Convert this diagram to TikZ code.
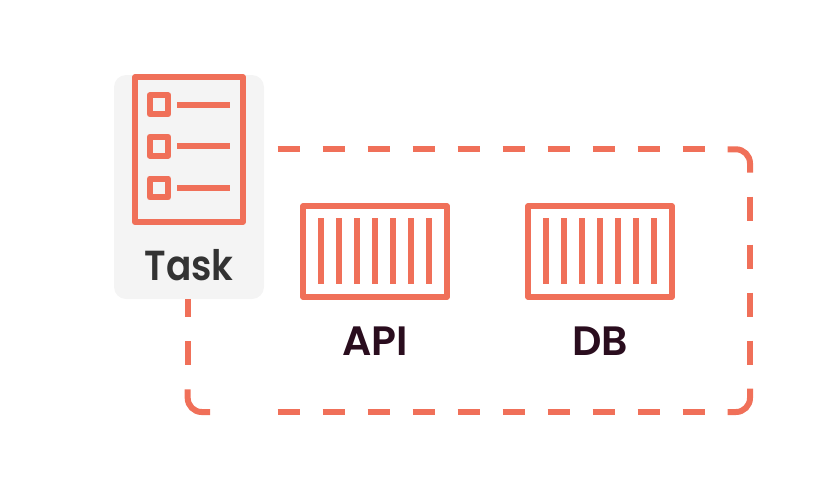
\documentclass[tikz,border=0pt]{standalone}
\usepackage{graphicx}
\usepackage{fontspec}
\setmainfont{Poppins}[BoldFont=Poppins SemiBold]
\definecolor{coral}{HTML}{F07059}
\definecolor{panel}{HTML}{F4F4F4}
\definecolor{taskink}{HTML}{333333}
\definecolor{plumink}{HTML}{2A0D1E}
\tikzset{
  icon/.style={draw=coral,line width=6pt,line join=round},
  bar/.style={draw=coral,line width=6pt},
  dashpiece/.style={draw=coral,line width=6pt,line cap=butt},
  tasklabel/.style={font=\fontsize{42}{42}\selectfont\bfseries,text=taskink,anchor=base,inner sep=0pt},
  boxlabel/.style={font=\fontsize{41}{41}\selectfont\bfseries,text=plumink,anchor=base,inner sep=0pt},
}
\begin{document}
\begin{tikzpicture}[x=1pt,y=-1pt]
\useasboundingbox (0,0) rectangle (825,488);
% panel
\fill[panel,rounded corners=12pt] (114,75) rectangle (264,299);
% dashed group: top
\foreach \x in {277.7,322.7,...,682.7} {
  \draw[dashpiece] (\x,149.3) -- ++(22.5,0);
  \draw[dashpiece] (\x,412) -- ++(22.5,0);
}
% corners
\draw[dashpiece,rounded corners=14pt] (727.7,149.3) -- (750,149.3) -- (750,172.7);
\draw[dashpiece,rounded corners=14pt] (750,388.7) -- (750,412) -- (727.7,412);
\draw[dashpiece,rounded corners=14pt] (187.7,389.3) -- (187.7,412) -- (210,412);
% right side
\foreach \y in {196.7,244.7,292.7,340.7} {
  \draw[dashpiece] (750,\y) -- ++(0,24);
}
% left side
\draw[dashpiece] (187.7,299) -- (187.7,316.7);
\draw[dashpiece] (187.7,341) -- (187.7,364.7);
% task icon
\draw[icon] (135,77.3) rectangle (242.8,222);
\foreach \y in {104.7,146.3,188} {
  \draw[icon] (149.7,\y-9.4) rectangle (168.3,\y+9.4);
  \draw[bar] (177,\y) -- (230.3,\y);
}
\node[tasklabel] (task) at (189,280.7) {\scalebox{0.89}[1]{Task}};
% containers
\foreach \dx/\nm/\lab in {0/api/API,225/db/DB} {
  \begin{scope}[xshift=\dx pt]
    \draw[icon] (303,206.3) rectangle (447,296.7);
    \foreach \x in {321,339,357,375,393,410.8,428.7} {
      \draw[bar] (\x,218.3) -- (\x,284.3);
    }
    \node[boxlabel] (\nm) at (375,355) {\lab};
  \end{scope}
}
\end{tikzpicture}
\end{document}
